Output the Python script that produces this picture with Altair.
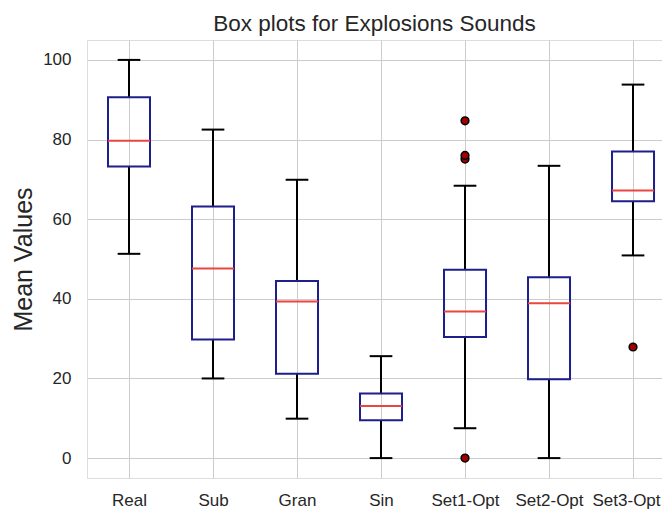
import altair as alt
import pandas as pd

categories = ["Real", "Sub", "Gran", "Sin", "Set1-Opt", "Set2-Opt", "Set3-Opt"]
positions = [1, 2, 3, 4, 5, 6, 7]
whisker_low = [51.3, 20.0, 9.9, 0.0, 7.5, 0.0, 50.9]
q1 = [73.2, 29.8, 21.2, 9.5, 30.4, 19.8, 64.5]
median = [79.7, 47.6, 39.3, 13.1, 36.8, 38.9, 67.2]
q3 = [90.6, 63.2, 44.5, 16.2, 47.3, 45.4, 77.0]
whisker_high = [100.0, 82.5, 69.9, 25.6, 68.4, 73.4, 93.8]

outlier_pos = [5, 5, 5, 5, 7]
outlier_val = [0.0, 75.1, 76.0, 84.7, 27.9]

FONT = "Liberation Sans"
TXT = "#262626"
BOX = "#1f1f8c"
MED = "#e8473f"
GRID = "#cccccc"

df = pd.DataFrame({
    "cat": categories, "pos": positions, "lo": whisker_low, "q1": q1,
    "med": median, "q3": q3, "hi": whisker_high,
})
odf = pd.DataFrame({"pos": outlier_pos, "val": outlier_val})

label_expr = "[''," + ",".join(f"'{c}'" for c in categories) + "][datum.value]"

x_scale = alt.Scale(domain=[0.5, 7.345], nice=False, zero=False)
y_scale = alt.Scale(domain=[-5, 105], nice=False, zero=False)

x_axis = alt.Axis(values=positions, labelExpr=label_expr, title=None,
                  labelFontSize=17, labelPadding=14, ticks=False, tickSize=0,
                  labelOffset={"condition": {"test": "datum.value == 7", "value": -7}, "value": 0},
                  domain=False, grid=True, gridColor=GRID, gridWidth=1,
                  labelFont=FONT, labelColor=TXT)
y_axis = alt.Axis(values=[0, 20, 40, 60, 80, 100], title="Mean Values",
                  titleFontSize=25, titleFont=FONT, titleColor=TXT,
                  titleFontWeight="normal", titlePadding=6,
                  labelFontSize=17, labelPadding=16, ticks=False, tickSize=0,
                  domain=False, grid=True, gridColor=GRID, gridWidth=1,
                  labelFont=FONT, labelColor=TXT)

base = alt.Chart(df).transform_calculate(
    xl="datum.pos - 0.25", xr="datum.pos + 0.25",
    cl="datum.pos - 0.135", cr="datum.pos + 0.135",
)

grid = base.mark_point(opacity=0).encode(
    x=alt.X("pos:Q", scale=x_scale, axis=x_axis),
    y=alt.Y("med:Q", scale=y_scale, axis=y_axis),
)

whisk_low = base.mark_rule(color="black", strokeWidth=2).encode(
    x="pos:Q", y="lo:Q", y2="q1:Q")
whisk_high = base.mark_rule(color="black", strokeWidth=2).encode(
    x="pos:Q", y="q3:Q", y2="hi:Q")
cap_low = base.mark_rule(color="black", strokeWidth=2).encode(
    x="cl:Q", x2="cr:Q", y="lo:Q")
cap_high = base.mark_rule(color="black", strokeWidth=2).encode(
    x="cl:Q", x2="cr:Q", y="hi:Q")
box = base.mark_rect(fill="transparent", stroke=BOX, strokeWidth=2).encode(
    x="xl:Q", x2="xr:Q", y="q1:Q", y2="q3:Q")
med = base.mark_rule(color=MED, strokeWidth=2).encode(
    x="xl:Q", x2="xr:Q", y="med:Q")
outl = alt.Chart(odf).mark_point(filled=True, fill="#a00000", stroke="black",
                                 strokeWidth=1.5, size=60, opacity=1).encode(
    x="pos:Q", y="val:Q")

chart = alt.layer(grid, whisk_low, whisk_high, cap_low, cap_high, box, med, outl).properties(
    width=575, height=438,
    title=alt.TitleParams("Box plots for Explosions Sounds", fontSize=22.5, font=FONT,
                          color=TXT, fontWeight="normal", offset=5),
    padding={"left": 79, "top": 32, "right": 0, "bottom": 32},
    autosize=alt.AutoSizeParams(type="none"),
).configure_view(stroke=GRID, strokeWidth=1).configure(background="white")

chart.save("out.html", embed_options={"renderer": "svg", "actions": False})
